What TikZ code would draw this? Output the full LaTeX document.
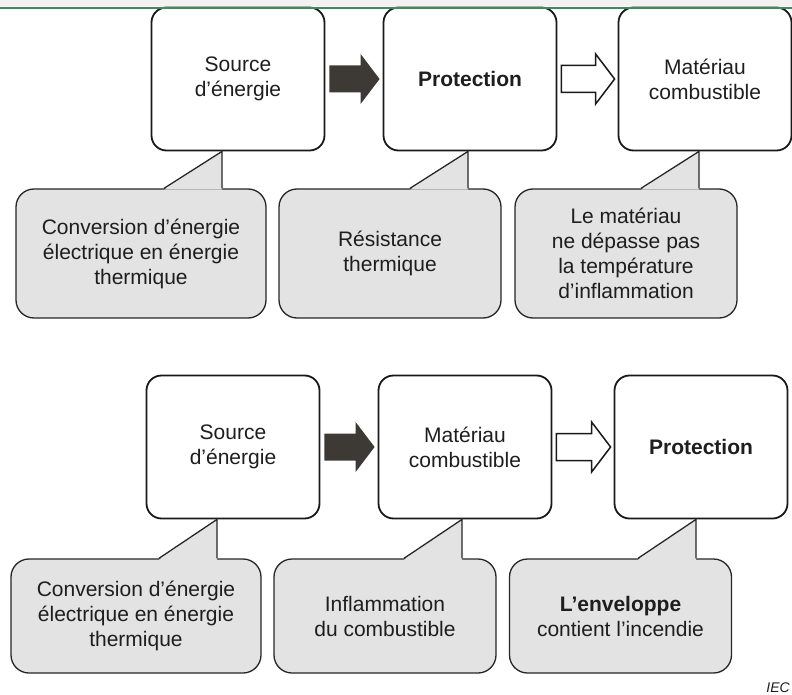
\documentclass[tikz,border=0pt]{standalone}
\usepackage{fontspec}
\setmainfont{Liberation Sans}
\usetikzlibrary{calc}

\definecolor{calloutgray}{HTML}{E3E3E3}
\definecolor{arrowdark}{HTML}{3D3935}
\definecolor{bandgreen}{HTML}{3E8E52}
\definecolor{bandgray}{HTML}{F2F2F2}
\definecolor{textgray}{HTML}{1E1E1E}

% block arrow from the east side of one box to the west side of the next
\newcommand{\blockarrow}[3]{%
  \path[#1] ($(#2.east)+(4,-13.5)$) -- ($(#3.west)+(-22,-13.5)$)
    -- ($(#3.west)+(-22,-25)$) -- ($(#3.west)+(-3,0)$)
    -- ($(#3.west)+(-22,25)$) -- ($(#3.west)+(-22,13.5)$)
    -- ($(#2.east)+(4,13.5)$) -- cycle;}

% pointer of a callout, tip given as a coordinate
\newcommand{\calloutpointer}[2]{%
  \fill[calloutgray] ($(#1 |- #2.north)+(-58,1.4)$) -- (#1) -- ($(#1 |- #2.north)+(0,1.4)$) -- cycle;
  \draw[pointerline] ($(#1 |- #2.north)+(-58,0)$) -- (#1) -- (#1 |- #2.north);}

\begin{document}
\begin{tikzpicture}[x=1pt, y=-1pt,
    box/.style={draw=black!90, line width=1.8pt, rounded corners=15pt, fill=white,
      minimum width=173pt, minimum height=143pt, align=center, text=textgray,
      font=\fontsize{21}{25}\selectfont},
    callout/.style={draw=black!85, line width=1.3pt, rounded corners=18pt, fill=calloutgray,
      minimum width=222pt, align=center, text=textgray,
      font=\fontsize{21}{25}\selectfont},
    pointerline/.style={draw=black!85, line width=1.3pt},
    darkarrow/.style={fill=arrowdark},
    openarrow/.style={draw=black!90, line width=1.5pt, fill=white}]
  \useasboundingbox (0,0) rectangle (792,695);

  % upper chain
  \node[box] (src1) at (238,79) {Source\\d’énergie};
  \node[box] (prot1) at (470,79) {\textbf{Protection}};
  \node[box] (mat1) at (705,79) {Matériau\\combustible};
  \blockarrow{darkarrow}{src1}{prot1}
  \blockarrow{openarrow}{prot1}{mat1}

  \node[callout, minimum width=250pt, minimum height=129pt] (conv1) at (141,253.5)
    {Conversion d’énergie\\électrique en énergie\\thermique};
  \node[callout, minimum height=129pt] (res1) at (390,253.5) {Résistance\\thermique};
  \node[callout, minimum height=129pt] (temp1) at (626,253.5)
    {Le matériau\\ne dépasse pas\\la température\\d’inflammation};

  \coordinate (tipA) at ($(src1.south)+(-16,0)$);
  \coordinate (tipB) at ($(prot1.south)+(-2,0)$);
  \coordinate (tipC) at ($(mat1.south)+(-6,0)$);
  \calloutpointer{tipA}{conv1}
  \calloutpointer{tipB}{res1}
  \calloutpointer{tipC}{temp1}

  % lower chain
  \node[box] (src2) at (233,447) {Source\\d’énergie};
  \node[box] (mat2) at (465,447) {Matériau\\combustible};
  \node[box] (prot2) at (701,447) {\textbf{Protection}};
  \blockarrow{darkarrow}{src2}{mat2}
  \blockarrow{openarrow}{mat2}{prot2}

  \node[callout, minimum width=250pt, minimum height=114pt] (conv2) at (136,616)
    {Conversion d’énergie\\électrique en énergie\\thermique};
  \node[callout, minimum height=114pt] (infl2) at (385,616) {Inflammation\\du combustible};
  \node[callout, minimum height=114pt] (env2) at (620.5,616)
    {\textbf{L’enveloppe}\\contient l’incendie};

  \coordinate (tipD) at ($(src2.south)+(-16,0)$);
  \coordinate (tipE) at ($(mat2.south)+(-3,0)$);
  \coordinate (tipF) at ($(prot2.south)+(-5,0)$);
  \calloutpointer{tipD}{conv2}
  \calloutpointer{tipE}{infl2}
  \calloutpointer{tipF}{env2}

  % header band
  \fill[bandgray] (0,0) rectangle (792,6.5);
  \draw[bandgreen, line width=2.4pt] (0,8) -- (792,8);

  \node[anchor=base east, inner sep=0pt, text=textgray, font=\fontsize{14}{16}\selectfont\itshape]
    (iec) at (790,692) {IEC};
\end{tikzpicture}
\end{document}
